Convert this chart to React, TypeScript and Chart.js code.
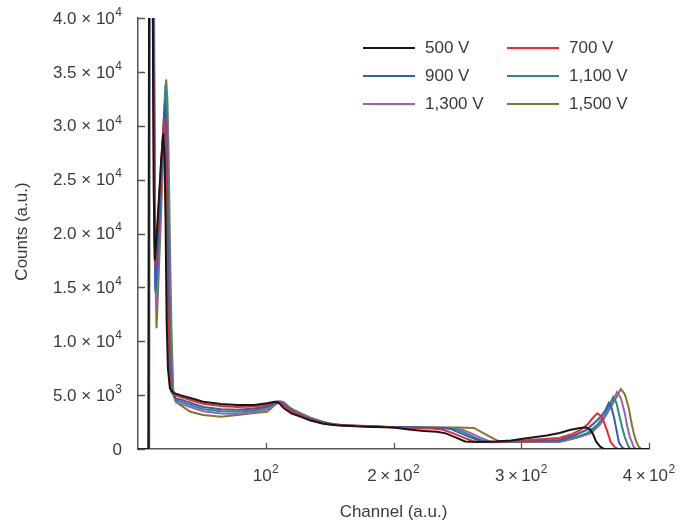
import React, { useEffect, useRef } from "react";
import { Chart, registerables } from "chart.js";

Chart.register(...registerables);

// ---------- data ----------
const seriesLabels = ["500 V", "700 V", "900 V", "1,100 V", "1,300 V", "1,500 V"];
const seriesColors = ["#161616", "#e8292d", "#2f5fb6", "#2b8b84", "#a45db5", "#7c7a31"];

const xTickValues = [100, 200, 300, 400];
const xTickLabels = ["10^2", "2\u2009×\u200910^2", "3\u2009×\u200910^2", "4\u2009×\u200910^2"];
const yTickValues = [0, 5000, 10000, 15000, 20000, 25000, 30000, 35000, 40000];
const yTickLabels = [
  "0",
  "5.0 × 10^3",
  "1.0 × 10^4",
  "1.5 × 10^4",
  "2.0 × 10^4",
  "2.5 × 10^4",
  "3.0 × 10^4",
  "3.5 × 10^4",
  "4.0 × 10^4",
];

// [channel, counts]
const counts500V: [number, number][] = [
  [0, 0], [8.2, 0], [8.8, 60000], [10.5, 60000], [11.5, 42000], [12.3, 24000], [13.2, 17500],
  [14.5, 19500], [16, 22500], [18, 26500], [19.8, 29300], [20.8, 27000], [21.6, 21000],
  [22.4, 12000], [23.4, 7500], [25, 5600], [28, 5200], [33, 5000], [41, 4730], [51, 4390],
  [65, 4180], [78, 4080], [91, 4080], [101, 4240], [107, 4390], [110, 4300], [114, 3800],
  [120, 3300], [127, 3000], [135, 2650], [145, 2350], [155, 2200], [170, 2100], [185, 2050],
  [200, 2000], [212, 1800], [224, 1680], [234, 1600], [241, 1450], [248, 1100], [256, 700],
  [265, 650], [280, 700], [292, 800], [300, 930], [310, 1100], [320, 1250], [330, 1480],
  [338, 1760], [346, 1950], [351, 2000], [354, 1800], [356.5, 1300], [358.5, 700], [362, 200],
  [365, 0], [400, 0],
];
const counts700V: [number, number][] = [
  [0, 0], [8.3, 0], [8.9, 60000], [10.8, 60000], [11.8, 40000], [12.6, 22000], [13.3, 17000],
  [14.8, 19500], [16.5, 23000], [18.5, 27500], [20.5, 30700], [21.5, 28500], [22.3, 22000],
  [23.2, 13000], [24.2, 7500], [25.8, 5400], [29, 5000], [33, 4850], [41, 4550], [51, 4200],
  [65, 3980], [78, 3900], [91, 3950], [101, 4100], [108, 4400], [111, 4350], [116, 3850],
  [122, 3350], [129, 3000], [137, 2650], [147, 2350], [157, 2200], [172, 2150], [187, 2100],
  [200, 2000], [215, 1950], [230, 1900], [238, 1800], [246, 1500], [254, 1100], [262, 750],
  [268, 650], [282, 680], [295, 750], [305, 820], [315, 900], [330, 1020], [340, 1400],
  [346, 1760], [352, 2300], [356, 2880], [359.5, 3320], [362.5, 3050], [365, 2400],
  [367, 1760], [370, 650], [373, 200], [376, 0], [400, 0],
];
const counts900V: [number, number][] = [
  [0, 0], [8.4, 0], [9, 60000], [11, 60000], [12, 40000], [12.9, 20000], [13.6, 14800],
  [15, 17500], [17, 22000], [19, 28000], [21, 32100], [22, 30000], [22.8, 24000], [23.7, 15000],
  [24.7, 8500], [26.2, 5300], [29.5, 4700], [33, 4600], [41, 4300], [51, 3900], [65, 3700],
  [78, 3650], [91, 3750], [101, 3950], [109, 4400], [112, 4350], [117, 3850], [123, 3350],
  [130, 3000], [139, 2650], [149, 2350], [159, 2200], [175, 2100], [190, 2050], [205, 2050],
  [220, 2000], [238, 1950], [245, 1850], [252, 1500], [260, 1100], [268, 750], [274, 650],
  [285, 680], [300, 720], [315, 780], [330, 835], [342, 1300], [351, 1760], [358, 2500],
  [362, 2970], [366, 3620], [368.5, 4280], [370.5, 3900], [372.5, 3000], [374.5, 1800],
  [376.5, 600], [379, 150], [381, 0], [400, 0],
];
const counts1100V: [number, number][] = [
  [0, 0], [8.5, 0], [9.1, 60000], [11.2, 60000], [12.2, 40000], [13.1, 20000], [13.8, 14500],
  [15.2, 17500], [17.2, 22500], [19.5, 29000], [21.5, 33800], [22.5, 31500], [23.4, 25000],
  [24.4, 16000], [25.4, 9000], [26.8, 5300], [30, 4500], [33, 4400], [41, 4100], [51, 3700],
  [65, 3500], [78, 3450], [91, 3600], [101, 3850], [110, 4400], [113, 4350], [118, 3850],
  [124, 3350], [131, 2980], [141, 2600], [151, 2330], [161, 2200], [177, 2100], [192, 2050],
  [207, 2050], [222, 2000], [242, 1950], [250, 1800], [257, 1450], [264, 1050], [271, 720],
  [277, 650], [290, 680], [305, 700], [318, 720], [330, 750], [345, 1200], [352, 1500],
  [360, 2300], [365, 3100], [369, 4100], [372, 4830], [374.5, 4300], [377, 2970], [379, 2000],
  [381, 1110], [384, 200], [386, 0], [400, 0],
];
const counts1300V: [number, number][] = [
  [0, 0], [8.6, 0], [9.2, 60000], [11.4, 60000], [12.4, 40000], [13.3, 19000], [14.1, 13200],
  [15.5, 16500], [17.5, 22000], [19.8, 28500], [21.8, 33100], [22.8, 31000], [23.8, 25000],
  [24.8, 16500], [26, 9000], [27.3, 5200], [30, 4300], [33, 4200], [41, 3900], [51, 3500],
  [65, 3300], [78, 3250], [91, 3450], [101, 3650], [111, 4400], [114, 4350], [119, 3850],
  [125, 3350], [133, 2950], [143, 2550], [153, 2300], [163, 2200], [180, 2100], [195, 2050],
  [210, 2050], [225, 2000], [246, 1950], [254, 1800], [261, 1450], [268, 1050], [275, 720],
  [281, 650], [295, 680], [310, 690], [322, 700], [330, 700], [345, 1100], [355, 1500],
  [362, 2300], [367, 3300], [371, 4300], [375, 5290], [378, 4700], [381, 3340], [383, 2100],
  [385, 1110], [388, 200], [390, 0], [400, 0],
];
const counts1500V: [number, number][] = [
  [0, 0], [8.7, 0], [8.8, 60000], [11.6, 60000], [12.6, 40000], [13.6, 18000], [14.5, 11200],
  [15.8, 15000], [17.8, 21000], [20, 28500], [22, 34300], [23, 32500], [24, 27000], [25, 19000],
  [26.2, 11000], [27.6, 5500], [29, 4500], [33, 4080], [41, 3460], [51, 3150], [65, 3000],
  [78, 3150], [91, 3340], [101, 3460], [109, 4270], [112, 4390], [115, 4200], [119, 3800],
  [127, 3340], [135, 2900], [145, 2500], [155, 2250], [165, 2150], [182, 2100], [197, 2050],
  [212, 2050], [228, 2000], [250, 2000], [263, 1950], [270, 1500], [276, 1110], [281, 800],
  [285, 680], [300, 650], [315, 640], [330, 650], [342, 1000], [354, 1480], [364, 2690],
  [372, 4270], [378, 5570], [381, 5100], [384, 3900], [386, 2600], [388, 1480], [390, 700],
  [392, 200], [394, 0], [400, 0],
];
const seriesData = [counts500V, counts700V, counts900V, counts1100V, counts1300V, counts1500V];

// ---------- drawing helpers ----------
const FONT = '"Liberation Sans", Arial, Helvetica, sans-serif';
const TEXT_COLOR = "#3a3a3a";
const AXIS_COLOR = "#555555";

function drawSci(ctx: CanvasRenderingContext2D, text: string, x: number, y: number, align: string) {
  const [base, exp] = text.split("^");
  ctx.font = `17px ${FONT}`;
  const wb = ctx.measureText(base).width;
  ctx.font = `12px ${FONT}`;
  const we = exp ? ctx.measureText(exp).width + 0.5 : 0;
  const total = wb + we;
  const left = align === "right" ? x - total : align === "center" ? x - total / 2 : x;
  ctx.textAlign = "left";
  ctx.textBaseline = "middle";
  ctx.fillStyle = TEXT_COLOR;
  ctx.font = `17px ${FONT}`;
  ctx.fillText(base, left, y);
  if (exp) {
    ctx.font = `12px ${FONT}`;
    ctx.fillText(exp, left + wb + 0.5, y - 6.5);
  }
}

const decorPlugin = {
  id: "decor",
  afterDraw(chart: any) {
    const ctx: CanvasRenderingContext2D = chart.ctx;
    const xs = chart.scales.x;
    const ys = chart.scales.y;
    const area = chart.chartArea;
    ctx.save();
    // inward tick marks
    ctx.strokeStyle = AXIS_COLOR;
    ctx.lineWidth = 1.3;
    ctx.beginPath();
    yTickValues.forEach((v) => {
      const py = Math.round(ys.getPixelForValue(v)) + 0.5;
      ctx.moveTo(area.left, py);
      ctx.lineTo(area.left + 7, py);
    });
    xTickValues.forEach((v) => {
      const px = Math.round(xs.getPixelForValue(v)) + 0.5;
      ctx.moveTo(px, area.bottom);
      ctx.lineTo(px, area.bottom - 6);
    });
    ctx.stroke();
    // tick labels
    yTickValues.forEach((v, i) => {
      drawSci(ctx, yTickLabels[i], area.left - 16, ys.getPixelForValue(v) + 1, "right");
    });
    xTickValues.forEach((v, i) => {
      drawSci(ctx, xTickLabels[i], xs.getPixelForValue(v), area.bottom + 27, "center");
    });
    // axis titles
    ctx.fillStyle = TEXT_COLOR;
    ctx.font = `17px ${FONT}`;
    ctx.textAlign = "center";
    ctx.textBaseline = "middle";
    ctx.fillText("Channel (a.u.)", (area.left + area.right) / 2, area.bottom + 63);
    ctx.save();
    ctx.translate(22, (area.top + area.bottom) / 2 - 2);
    ctx.rotate(-Math.PI / 2);
    ctx.fillText("Counts (a.u.)", 0, 0);
    ctx.restore();
    // legend (2 columns x 3 rows)
    const colX = [363, 507];
    const rowY = [48, 76, 104];
    chart.data.datasets.forEach((ds: any, i: number) => {
      const cx = colX[i % 2];
      const cy = rowY[Math.floor(i / 2)];
      ctx.strokeStyle = ds.borderColor;
      ctx.lineWidth = 2;
      ctx.beginPath();
      ctx.moveTo(cx, cy);
      ctx.lineTo(cx + 52, cy);
      ctx.stroke();
      ctx.fillStyle = TEXT_COLOR;
      ctx.font = `17px ${FONT}`;
      ctx.textAlign = "left";
      ctx.textBaseline = "middle";
      ctx.fillText(ds.label, cx + 62, cy);
    });
    ctx.restore();
  },
};

export default function App() {
  const canvasRef = useRef<HTMLCanvasElement | null>(null);

  useEffect(() => {
    if (!canvasRef.current) return;
    const chart = new Chart(canvasRef.current, {
      type: "line",
      data: {
        datasets: seriesData.map((pts, i) => ({
          label: seriesLabels[i],
          data: pts.map(([x, y]) => ({ x, y })),
          borderColor: seriesColors[i],
          backgroundColor: seriesColors[i],
          borderWidth: 2,
          pointRadius: 0,
          tension: 0,
          fill: false,
        })),
      },
      options: {
        animation: false,
        responsive: true,
        maintainAspectRatio: false,
        layout: { padding: { top: 18, right: 31, left: 0, bottom: 0 } },
        plugins: {
          legend: { display: false },
          tooltip: { enabled: false },
        },
        scales: {
          x: {
            type: "linear",
            min: 0,
            max: 400,
            grid: { display: false, drawTicks: false },
            border: { display: true, color: AXIS_COLOR, width: 1.5 },
            ticks: { display: false },
            afterFit: (scale: any) => {
              scale.height = 75;
            },
          },
          y: {
            type: "linear",
            min: 0,
            max: 40000,
            grid: { display: false, drawTicks: false },
            border: { display: true, color: AXIS_COLOR, width: 1.5 },
            ticks: { display: false, stepSize: 5000 },
            afterFit: (scale: any) => {
              scale.width = 138;
            },
          },
        },
      },
      plugins: [decorPlugin],
    });
    return () => chart.destroy();
  }, []);

  return (
    <div style={{ position: "fixed", left: 0, top: 0, width: 680, height: 524, background: "#ffffff" }}>
      <canvas ref={canvasRef} />
    </div>
  );
}
